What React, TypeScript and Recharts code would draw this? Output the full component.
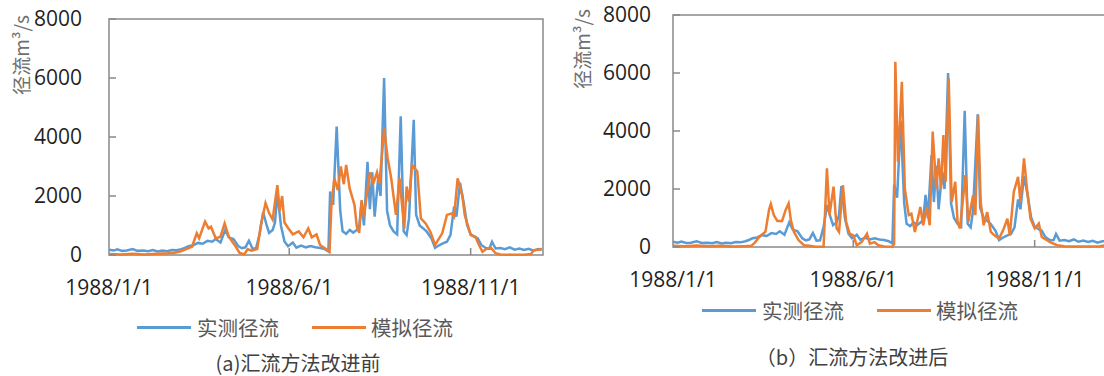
import React from "react";
import { LineChart, Line, XAxis, YAxis, ReferenceArea, Legend } from "recharts";

// day of year 1988 (0 = 1/1), flow in m³/s
const dateTicks = [0, 152, 305];
const dateLabels = ["1988/1/1", "1988/6/1", "1988/11/1"];
const flowTicks = [0, 2000, 4000, 6000, 8000];

const obsDays = [
  0, 4, 7, 11, 15, 20, 24, 29, 33, 37, 41, 45, 49, 53, 57, 61, 64, 67, 71, 75, 79, 83, 87, 90, 94, 98, 101, 105,
  109, 112, 115, 118, 121, 124, 127, 130, 133, 135, 138, 140, 142, 145, 148, 151, 155, 158, 162, 166, 170, 174,
  178, 182, 185, 186.5, 189, 192, 195, 197, 200, 203, 206, 209, 211, 213, 215, 218, 220, 222, 224, 227, 229, 232,
  234.5, 237, 240, 243, 246, 248.5, 251, 253, 257, 259, 262, 265, 268, 272, 275, 278, 282, 285, 288, 291, 293,
  296, 299, 302, 305, 308, 311, 314, 318, 321, 323, 326, 330, 334, 338, 342, 346, 350, 354, 358, 362, 365,
];
const obsValues = [
  180, 150, 190, 140, 150, 200, 140, 150, 130, 170, 120, 150, 130, 170, 160, 200, 240, 300, 330, 410, 380, 480,
  450, 540, 420, 850, 600, 540, 300, 230, 260, 480, 220, 230, 700, 1450, 1000, 750, 850, 1100, 2100, 1000, 460,
  300, 420, 250, 320, 260, 300, 260, 240, 200, 120, 2150, 1700, 4350, 1500, 800, 720, 850, 760, 850, 950, 1800,
  1000, 3160, 1550, 2800, 1300, 2600, 2000, 6000, 1500, 1000, 800, 700, 4700, 800, 680, 1240, 4580, 1360, 1000,
  900, 790, 560, 240, 320, 400, 450, 680, 1640, 1300, 2450, 1800, 1020, 700, 620, 560, 340, 230, 240, 450, 220,
  240, 200, 260, 180, 220, 170, 210, 150, 200, 190,
];

const simADays = [
  0, 10, 20, 30, 40, 50, 55, 60, 65, 70, 74, 76, 81, 84, 86, 90, 94, 97.5, 101, 107, 110, 114, 117, 120, 125, 128,
  132, 135, 138, 140, 142, 144, 146, 148, 151, 155, 160, 164, 168, 171, 175, 178, 183, 186, 187.5, 190, 193,
  195.5, 198, 200, 203, 207, 209, 211, 213, 215, 220, 223, 226, 228, 230.5, 232, 235, 238, 242, 245, 249, 251,
  253, 255.5, 260, 263, 267, 271, 275, 281, 285, 289, 291, 294, 298, 300, 305, 309, 312, 315, 318, 322, 326, 330,
  340, 350, 356, 358, 362, 365,
];
const simAValues = [
  30, 20, 40, 20, 40, 60, 80, 120, 200, 280, 735, 565, 1130, 900, 960, 565, 620, 1070, 620, 280, 80, 20, 200, 150,
  200, 1000, 1760, 1420, 1200, 1800, 2370, 1500, 2000, 1100, 915, 700, 800, 600, 900, 600, 700, 340, 200, 110,
  1640, 2600, 2200, 3000, 2400, 3050, 2250, 1700, 960, 750, 1860, 1300, 2800, 2430, 2800, 2430, 3540, 4290, 3280,
  2600, 1360, 2600, 900, 2320, 1800, 3050, 2830, 1240, 1070, 790, 340, 735, 1360, 1410, 1300, 2600, 2000, 1360,
  680, 620, 340, 110, 200, 250, 60, 20, 10, 10, 30, 160, 180, 200,
];

const simBDays = [
  0, 10, 20, 30, 40, 50, 60, 66, 69, 73, 78, 81, 82.5, 85, 88, 92, 95, 97.5, 99.5, 102, 106, 110.5, 115, 120, 127,
  129.8, 132, 135.4, 138, 140, 143.3, 146, 149, 152, 155, 159, 163.6, 166, 170, 173, 178, 185, 186.5, 187.5,
  189.7, 193, 195.5, 198.8, 201, 204, 208.6, 211, 214, 216.5, 219, 222, 224, 226, 228, 230, 232.5, 235, 238, 240,
  242, 246.6, 249, 253, 255, 257.3, 259.5, 262, 265, 268, 271, 275, 279, 282, 284, 287.4, 291, 293, 296, 298.5,
  301.5, 305, 308.5, 311, 318, 324, 330, 340, 350, 360, 365,
];
const simBValues = [
  40, 30, 50, 30, 40, 20, 30, 40, 150, 355, 530, 1280, 1480, 1100, 900, 900, 1280, 1500, 900, 520, 230, 60, 40, 10,
  10, 2710, 1100, 2080, 640, 520, 2130, 860, 460, 400, 60, 170, 460, 115, 170, 60, 20, 10, 100, 6390, 2940, 5700,
  2015, 1100, 1150, 520, 1380, 750, 1380, 750, 3980, 2015, 3060, 2015, 3860, 2250, 5820, 1550, 2250, 860, 640,
  2480, 860, 1780, 1100, 4550, 1550, 750, 1200, 520, 400, 290, 640, 980, 400, 1900, 2420, 1550, 3060, 2015, 980,
  640, 810, 345, 170, 60, 30, 20, 20, 30, 60,
];

const toRows = (days: number[], values: number[]) => days.map((d, i) => ({ day: d, flow: values[i] }));

const observed = toRows(obsDays, obsValues);
const simulatedA = toRows(simADays, simAValues);
const simulatedB = toRows(simBDays, simBValues);

const BLUE = "#5B9BD5";
const ORANGE = "#ED7D31";
const FRAME = "#898989";
const FONT = '"Open Sans", "Noto Sans CJK SC", sans-serif';
const CJK = '"Noto Sans CJK SC", "Open Sans", sans-serif';

function DateTick(props: any) {
  const { x, y, payload } = props;
  const label = dateLabels[dateTicks.indexOf(payload.value)];
  return (
    <g>
      {payload.value > 0 && <line x1={x} x2={x} y1={y} y2={y - 7} stroke={FRAME} strokeWidth={1.5} />}
      <text x={x} y={y + 25} dy="0.71em" textAnchor="middle" fill="#1f1f1f" fontSize={21} fontFamily={FONT}>
        {label}
      </text>
    </g>
  );
}

const flowTick = (gap: number) => (props: any) => {
  const { x, y, payload } = props;
  return (
    <g>
      <line x1={x} x2={x + 7} y1={y} y2={y} stroke={FRAME} strokeWidth={1.5} />
      <text x={x - gap} y={y} dy="0.355em" textAnchor="end" fill="#1f1f1f" fontSize={21} fontFamily={FONT}>
        {payload.value}
      </text>
    </g>
  );
};

function LegendRow() {
  return (
    <div
      style={{
        display: "flex",
        alignItems: "center",
        height: 28,
        fontFamily: CJK,
        fontSize: 20.5,
        lineHeight: "28px",
        color: "#595959",
        whiteSpace: "nowrap",
      }}
    >
      <span style={{ display: "inline-block", width: 54, height: 3, background: BLUE }} />
      <span style={{ marginLeft: 6 }}>实测径流</span>
      <span style={{ display: "inline-block", width: 54, height: 3, background: ORANGE, marginLeft: 33 }} />
      <span style={{ marginLeft: 5 }}>模拟径流</span>
    </div>
  );
}

interface PanelProps {
  left: number;
  width: number;
  top: number;
  bottom: number;
  axisWidth: number;
  rightMargin: number;
  labelGap: number;
  titleX: number;
  titleY: number;
  legendLeft: number;
  legendTop: number;
  simulated: { day: number; flow: number }[];
  caption: string;
  captionX: number;
  captionY: number;
}

function Panel(p: PanelProps) {
  return (
    <div style={{ position: "absolute", left: p.left, top: 0, width: p.width, height: 376 }}>
      <LineChart
        width={p.width}
        height={376}
        margin={{ top: p.top, right: p.rightMargin, left: 0, bottom: p.bottom }}
      >
        <XAxis
          dataKey="day"
          type="number"
          domain={[0, 366]}
          ticks={dateTicks}
          height={40}
          axisLine={false}
          tickLine={false}
          tickSize={0}
          tickMargin={0}
          tick={<DateTick />}
          interval={0}
        />
        <YAxis
          type="number"
          domain={[0, 8000]}
          ticks={flowTicks}
          width={p.axisWidth}
          axisLine={false}
          tickLine={false}
          tickSize={0}
          tickMargin={0}
          tick={flowTick(p.labelGap)}
          interval={0}
          label={() => (
            <text
              transform={`translate(${p.titleX},${p.titleY}) rotate(-90)`}
              textAnchor="middle"
              dy="0.35em"
              fill="#6f6f6f"
              fontSize={19}
              fontFamily={CJK}
            >
              径流m³/s
            </text>
          )}
        />
        <ReferenceArea x1={0} x2={366} y1={0} y2={8000} fill="none" stroke={FRAME} strokeWidth={1.5} />
        <Line
          data={observed}
          dataKey="flow"
          name="实测径流"
          type="linear"
          stroke={BLUE}
          strokeWidth={2.5}
          dot={false}
          isAnimationActive={false}
        />
        <Line
          data={p.simulated}
          dataKey="flow"
          name="模拟径流"
          type="linear"
          stroke={ORANGE}
          strokeWidth={2.5}
          dot={false}
          isAnimationActive={false}
        />
        <Legend
          verticalAlign="middle"
          align="center"
          content={() => <LegendRow />}
          wrapperStyle={{ left: p.legendLeft, top: p.legendTop, width: 400 }}
        />
      </LineChart>
      <div
        style={{
          position: "absolute",
          left: p.captionX - 160,
          top: p.captionY - 11,
          width: 320,
          height: 22,
          textAlign: "center",
          fontFamily: CJK,
          fontSize: 20,
          lineHeight: "22px",
          color: "#404040",
          whiteSpace: "nowrap",
        }}
      >
        {p.caption}
      </div>
    </div>
  );
}

export default function App() {
  return (
    <div
      style={{
        position: "fixed",
        left: 0,
        top: 0,
        width: 1104,
        height: 376,
        overflow: "hidden",
        background: "#fff",
      }}
    >
      <Panel
        left={0}
        width={552}
        top={19}
        bottom={81}
        axisWidth={109}
        rightMargin={9}
        labelGap={27}
        titleX={22}
        titleY={55}
        legendLeft={137}
        legendTop={313}
        simulated={simulatedA}
        caption="(a)汇流方法改进前"
        captionX={298}
        captionY={363}
      />
      <Panel
        left={552}
        width={560}
        top={15}
        bottom={89}
        axisWidth={121}
        rightMargin={5}
        labelGap={22}
        titleX={31}
        titleY={49}
        legendLeft={150}
        legendTop={296}
        simulated={simulatedB}
        caption="（b）汇流方法改进后"
        captionX={300}
        captionY={357}
      />
    </div>
  );
}
